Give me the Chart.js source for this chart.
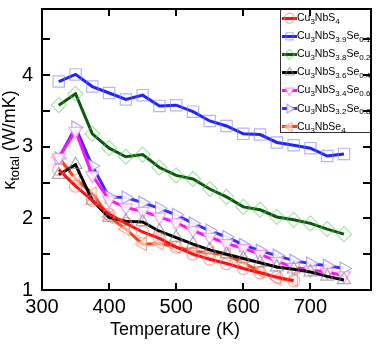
<!DOCTYPE html>
<html><head><meta charset="utf-8">
<script src="https://cdn.jsdelivr.net/npm/chart.js@4.4.1/dist/chart.umd.min.js"></script>
<style>html,body{margin:0;padding:0;background:#fff;}</style>
</head><body><canvas id="c" width="380" height="344"></canvas>
<script>
// ---- data ----
const temperatures = [325,350,375,400,425,450,475,500,525,550,575,600,625,650,675,700,725,750];
const kS4     = [2.68,2.45,2.25,2.06,1.93,1.81,1.72,1.60,1.50,1.43,1.37,1.30,1.24,1.18,1.13];
const kSe0_1  = [3.91,4.01,3.84,3.75,3.66,3.72,3.57,3.58,3.49,3.36,3.29,3.18,3.17,3.06,3.02,2.98,2.87,2.90];
const kSe0_2  = [3.58,3.74,3.18,2.98,2.86,2.89,2.71,2.60,2.55,2.41,2.30,2.16,2.12,2.02,1.98,1.93,1.85,1.78];
const kSe0_4  = [2.61,2.75,2.25,2.01,1.96,1.95,1.82,1.73,1.64,1.56,1.50,1.44,1.38,1.32,1.29,1.25,1.19,1.14];
const kSe0_6  = [2.85,3.22,2.60,2.26,2.15,2.10,2.02,1.94,1.83,1.74,1.65,1.58,1.50,1.40,1.32,1.28,1.25,1.20];
const kSe0_8  = [2.84,3.27,2.73,2.30,2.29,2.22,2.14,2.05,1.93,1.83,1.74,1.63,1.55,1.48,1.41,1.37,1.34,1.30];
const kSe4    = [2.85,2.55,2.35,2.02,1.85,1.64,1.65,1.60,1.54,1.52,1.49,1.38,1.26,1.16,1.14];
const seriesLabels = ['Cu_{3}NbS_{4}','Cu_{3}NbS_{3.9}Se_{0.1}','Cu_{3}NbS_{3.8}Se_{0.2}','Cu_{3}NbS_{3.6}Se_{0.4}','Cu_{3}NbS_{3.4}Se_{0.6}','Cu_{3}NbS_{3.2}Se_{0.8}','Cu_{3}NbSe_{4}'];
const xTickValues = [300,400,500,600,700];
const yTickValues = [1,2,3,4];
const yMinorTicks = [1.5,2.5,3.5,4.5];
const xTitle = 'Temperature (K)';
const yTitle = 'κ_{total} (W/mK)';

const FONT = "'Liberation Sans', Arial, sans-serif";
const seriesData = [kS4,kSe0_1,kSe0_2,kSe0_4,kSe0_6,kSe0_8,kSe4];
const styles = [
  {c:'#ff1010', m:'rgba(255,110,110,0.6)', ps:'circle', r:6, rot:0, bg:'rgba(0,0,0,0)'},
  {c:'#2222ff', m:'rgba(120,120,255,0.55)', ps:'rect', r:8, rot:0, bg:'rgba(0,0,0,0)'},
  {c:'#0b5a0b', m:'rgba(100,200,100,0.55)', ps:'rectRot', r:7.5, rot:0, bg:'rgba(0,0,0,0)'},
  {c:'#000000', m:'rgba(130,130,130,0.65)', ps:'triangle', r:7.5, rot:0, bg:'rgba(0,0,0,0)'},
  {c:'#ff10ff', m:'rgba(240,130,240,0.75)', ps:'triangle', r:7.5, rot:180, bg:'rgba(255,255,255,0.9)'},
  {c:'#3b2cff', m:'rgba(150,140,255,0.75)', ps:'triangle', r:7.5, rot:90, bg:'rgba(255,255,255,0.9)'},
  {c:'#ff4010', m:'rgba(255,150,120,0.75)', ps:'triangle', r:7.5, rot:270, bg:'rgba(255,255,255,0.6)'}
];

function parseRich(s){
  const out=[]; const re=/([^_]+)|_\{([^}]*)\}/g; let m;
  while((m=re.exec(s))){ if(m[1]!==undefined) out.push({t:m[1],sub:false}); else out.push({t:m[2],sub:true}); }
  return out;
}
function drawRich(ctx, s, x, y, size, subSize, subDy){
  let cx=x;
  for(const p of parseRich(s)){
    ctx.font=(p.sub?subSize:size)+'px '+FONT;
    ctx.fillText(p.t, cx, p.sub? y+subDy : y);
    cx+=ctx.measureText(p.t).width;
  }
  return cx-x;
}
function measureRich(ctx,s,size,subSize){
  let w=0; for(const p of parseRich(s)){ctx.font=(p.sub?subSize:size)+'px '+FONT; w+=ctx.measureText(p.t).width;} return w;
}
function fin(v,d){ return (typeof v==='number' && isFinite(v) && v>-1 && v<400) ? v : d; }
function box(ctx,x,y,w,h){ ctx.fillRect(Math.round(x), Math.round(y), Math.round(w), Math.round(h)); }

const datasets = seriesData.map((arr,i)=>({
  label: seriesLabels[i],
  data: arr.map((v,j)=>({x:temperatures[j], y:v})),
  borderColor: styles[i].c, borderWidth: 3, tension: 0,
  pointStyle: styles[i].ps, pointRadius: styles[i].r, pointRotation: styles[i].rot,
  pointBorderColor: styles[i].m, pointBackgroundColor: styles[i].bg, pointBorderWidth: 1.2,
  fill:false
}));

const decor = {id:'decor', afterDraw(chart){
  const ctx=chart.ctx, xs=chart.scales.x, ys=chart.scales.y;
  const xpx = v => fin(xs.getPixelForValue(v), 42 + (v-300)*335/490);
  const ypx = v => fin(ys.getPixelForValue(v), 290 - (v-1)*287/3.92);
  const L=xpx(300), R=xpx(790), T=ypx(4.92), B=ypx(1);
  ctx.save();
  // legend box
  const lx=280, lb=133;
  ctx.fillStyle='#ffffff'; box(ctx,lx,T,R-lx,lb-T);
  ctx.fillStyle='#333333'; box(ctx,lx,T,1,lb-T); box(ctx,lx,lb-1,R-lx,1);
  // frame
  ctx.fillStyle='#000000';
  box(ctx,L-1,T-1,R-L+2,2); box(ctx,L-1,B-1,R-L+2,2);
  box(ctx,L-1,T-1,2,B-T+2); box(ctx,R-1,T-1,2,B-T+2);
  for(const v of xTickValues){ const px=xpx(v);
    box(ctx,px-1,B-7,2,7); box(ctx,px-1,T,2,7); }
  for(const v of yTickValues.concat(yMinorTicks)){ const py=ypx(v);
    box(ctx,L,py-1,8,2); box(ctx,R-8,py-1,8,2); }
  // axis titles
  ctx.fillStyle='#000'; ctx.textBaseline='middle'; ctx.textAlign='left';
  ctx.font='18px '+FONT;
  const xw=ctx.measureText(xTitle).width;
  ctx.fillText(xTitle, 175-xw/2, 330);
  ctx.save(); ctx.translate(10, 140); ctx.rotate(-Math.PI/2);
  const yw=measureRich(ctx,yTitle,18,13);
  drawRich(ctx,yTitle,-yw/2,0,18,13,5);
  ctx.restore();
  // legend entries
  const H=Chart.helpers;
  for(let i=0;i<seriesLabels.length;i++){
    const y=T+9+i*18.1;
    ctx.fillStyle=styles[i].c; box(ctx,282,y-1.5,15,3);
    try{
      if(H && H.drawPoint){
        ctx.strokeStyle=styles[i].m; ctx.fillStyle=styles[i].bg; ctx.lineWidth=1.2;
        H.drawPoint(ctx,{pointStyle:styles[i].ps, radius:5, rotation:styles[i].rot, borderWidth:1.2}, 289.5, y);
      }
    }catch(e){}
    ctx.fillStyle='#000'; ctx.textBaseline='middle'; ctx.textAlign='left';
    drawRich(ctx, seriesLabels[i], 297, y, 10.5, 8, 3.5);
  }
  ctx.restore();
}};

new Chart(document.getElementById('c'), {
  type:'line',
  data:{datasets},
  options:{
    responsive:false, animation:false, devicePixelRatio:1,
    layout:{padding:{left:0,right:3,top:3,bottom:0}},
    plugins:{legend:{display:false}, tooltip:{enabled:false}},
    scales:{
      x:{type:'linear', min:300, max:790, bounds:'data',
        afterFit(s){ s.height=54; s.paddingLeft=0; s.paddingRight=0; },
        grid:{display:false, drawTicks:false}, border:{display:false},
        afterBuildTicks(s){ s.ticks = xTickValues.map(v=>({value:v})); },
        ticks:{autoSkip:false, maxRotation:0, color:'#000', padding:5, font:{family:FONT,size:20}}},
      y:{type:'linear', min:1, max:4.92, bounds:'data',
        afterFit(s){ s.width=42; s.paddingTop=0; s.paddingBottom=0; },
        grid:{display:false, drawTicks:false}, border:{display:false},
        afterBuildTicks(s){ s.ticks = yTickValues.map(v=>({value:v})); },
        ticks:{autoSkip:false, color:'#000', padding:9, font:{family:FONT,size:20}}}
    }
  },
  plugins:[decor]
});
</script></body></html>
